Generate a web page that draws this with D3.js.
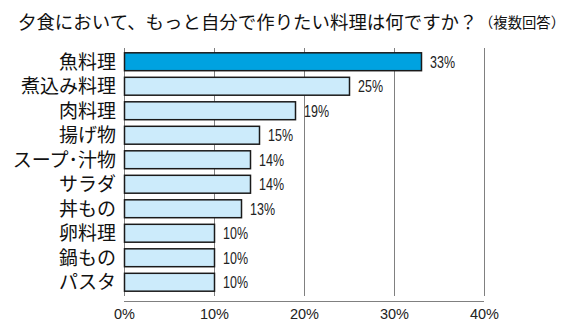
<!DOCTYPE html>
<html><head><meta charset="utf-8">
<script src="https://cdn.jsdelivr.net/npm/d3@7"></script>
<style>body{margin:0;background:#fff}svg{display:block}</style>
</head><body>
<svg id="c" width="566" height="331"></svg>
<script>
const titleMain = "夕食において、もっと自分で作りたい料理は何ですか？";
const titleSub = "（複数回答）";
const categories = ["魚料理","煮込み料理","肉料理","揚げ物","スープ･汁物","サラダ","丼もの","卵料理","鍋もの","パスタ"];
const values = [33,25,19,15,14,14,13,10,10,10];
const tickValues = [0,10,20,30,40];

const svg = d3.select("#c");
const font = "'Noto Sans CJK JP','Noto Sans',sans-serif";
const x = d3.scaleLinear().domain([0,40]).range([124,484]);
const y = d3.scaleBand().domain(categories).range([49.5,294.5]).paddingInner(0.27).paddingOuter(0.135);

// title
const t1 = svg.append("text").attr("x",18).attr("y",29).attr("font-family",font).attr("fill","#111")
  .attr("font-size","18px").text(titleMain);
const w1 = t1.node().getComputedTextLength();
t1.attr("font-size",(18*460/w1)+"px");
const t2 = svg.append("text").attr("x",479).attr("y",28).attr("font-family",font).attr("fill","#111")
  .attr("font-size","14px").text(titleSub);
const w2 = t2.node().getComputedTextLength();
t2.attr("font-size",(14*86/w2)+"px");

// gridlines
svg.append("g").selectAll("line").data(tickValues.slice(1)).join("line")
  .attr("x1",d=>x(d)+0.5).attr("x2",d=>x(d)+0.5).attr("y1",48).attr("y2",296)
  .attr("stroke","#808080").attr("stroke-width",1);

// axis line (left)
svg.append("line").attr("x1",x(0)+0.5).attr("x2",x(0)+0.5).attr("y1",48).attr("y2",296).attr("stroke","#808080");

// bottom axis
const xAxis = d3.axisBottom(x).tickValues(tickValues).tickFormat(d=>d+"%").tickSize(0).tickPadding(8);
const ax = svg.append("g").attr("transform","translate(0,301)").call(xAxis);
ax.select(".domain").attr("stroke","#808080").attr("d",`M${x(0)},0.5H${x(40)}`);
ax.selectAll("text").attr("font-family","'Liberation Sans',Arial,sans-serif").attr("font-size","14.5px").attr("fill","#222");

// bars
svg.append("g").selectAll("rect").data(categories).join("rect")
  .attr("x",x(0)+0.5).attr("y",d=>y(d))
  .attr("width",(d,i)=>x(values[i])-x(0)).attr("height",y.bandwidth())
  .attr("fill",(d,i)=>i===0?"#00A2E0":"#CCEBFB")
  .attr("stroke","#1a1a1a").attr("stroke-width",1.5);

// category labels
svg.append("g").selectAll("text").data(categories).join("text")
  .attr("x",116).attr("y",d=>y(d)+y.bandwidth()/2).attr("dy","0.36em")
  .attr("text-anchor","end").attr("font-family",font).attr("font-size","19px").attr("fill","#111")
  .text(d=>d);

// value labels
svg.append("g").selectAll("text").data(categories).join("text")
  .attr("x",(d,i)=>x(values[i])+9).attr("y",d=>y(d)+y.bandwidth()/2).attr("dy","0.36em")
  .attr("font-family","'Liberation Sans',Arial,sans-serif").attr("font-size","16px").attr("fill","#222")
  .attr("textLength",25).attr("lengthAdjust","spacingAndGlyphs")
  .text((d,i)=>values[i]+"%");
</script>
</body></html>
